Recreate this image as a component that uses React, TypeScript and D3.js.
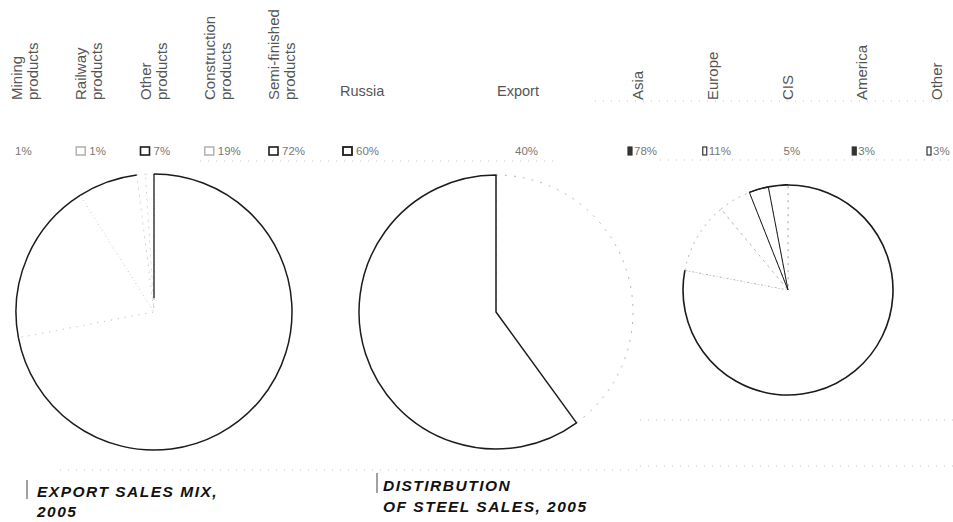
import React from "react";
import * as d3 from "d3";

// export sales mix, 2005 (%)
const mixLabels = [
  ["Mining", "products"],
  ["Railway", "products"],
  ["Other", "products"],
  ["Construction", "products"],
  ["Semi-finished", "products"],
];
const mixValues = [1, 1, 7, 19, 72];

// distribution of steel sales, 2005 (%)
const salesLabels = ["Russia", "Export"];
const salesValues = [60, 40];

// export by region (%)
const regionLabels = ["Asia", "Europe", "CIS", "America", "Other"];
const regionValues = [78, 11, 5, 3, 3];

const W = 953;
const H = 522;
const FONT = "'Liberation Sans', Arial, sans-serif";
const INK = "#1c1c1c";
const FAINT = "#b5b5b5";

type Slice = d3.PieArcDatum<number>;

function rimPath(d: Slice, r: number) {
  return d3.arc<Slice>().innerRadius(r).outerRadius(r)(d) || "";
}

function ray(angle: number, r: number): [number, number] {
  return [Math.sin(angle) * r, -Math.cos(angle) * r];
}

function Pie1() {
  const cx = 154, cy = 312, r = 138;
  // counter-clockwise from 12 o'clock
  const arcs = d3.pie<number>().sort(null).startAngle(0).endAngle(-2 * Math.PI)(mixValues);
  const arc = d3.arc<Slice>().innerRadius(0).outerRadius(r);
  const rim = [false, false, true, true, true];
  const [x0, y0] = ray(arcs[0].startAngle, r);
  return (
    <g transform={`translate(${cx},${cy})`}>
      {arcs.map((d, i) => (
        <path key={i} d={arc(d) || ""} fill="#fff" stroke={FAINT} strokeWidth={0.8} strokeDasharray="1 6" />
      ))}
      {arcs.map((d, i) =>
        rim[i] ? <path key={"r" + i} d={rimPath(d, r)} fill="none" stroke={INK} strokeWidth={1.5} /> : null
      )}
      <line x1={x0} y1={y0} x2={x0 * 0.1} y2={y0 * 0.1} stroke={INK} strokeWidth={1.3} />
    </g>
  );
}

function Pie2() {
  const cx = 496, cy = 312, r = 137;
  const arcs = d3.pie<number>().sort(null).startAngle(0).endAngle(-2 * Math.PI)(salesValues);
  const arc = d3.arc<Slice>().innerRadius(0).outerRadius(r);
  return (
    <g transform={`translate(${cx},${cy})`}>
      <path d={arc(arcs[1]) || ""} fill="#fff" stroke={FAINT} strokeWidth={1} strokeDasharray="2 7" />
      <path d={arc(arcs[0]) || ""} fill="#fff" stroke={INK} strokeWidth={1.5} strokeLinejoin="round" />
    </g>
  );
}

function Pie3() {
  const cx = 788, cy = 290, r = 105;
  const arcs = d3.pie<number>().sort(null).startAngle(0).endAngle(2 * Math.PI)(regionValues);
  const arc = d3.arc<Slice>().innerRadius(0).outerRadius(r);
  const rim = [true, false, false, true, true];
  return (
    <g transform={`translate(${cx},${cy})`}>
      {arcs.map((d, i) => (
        <path key={i} d={arc(d) || ""} fill="#fff" stroke={FAINT} strokeWidth={1} strokeDasharray="2 5" />
      ))}
      {arcs.map((d, i) =>
        rim[i] ? <path key={"r" + i} d={rimPath(d, r)} fill="none" stroke={INK} strokeWidth={1.6} /> : null
      )}
      <path d={arc(arcs[3]) || ""} fill="none" stroke={INK} strokeWidth={1} />
    </g>
  );
}

export default function App() {
  const col1 = d3.scaleLinear().domain([0, mixLabels.length - 1]).range([22, 279]);
  const col2 = d3.scaleLinear().domain([0, 1]).range([340, 497]);
  const col3 = d3.scaleLinear().domain([0, regionLabels.length - 1]).range([643, 942]);
  const mixMarker = [null, FAINT, INK, FAINT, INK];
  const regionMarker = ["fill", "open", null, "fill", "open"];
  const labelY = 100;
  const legY = 155;
  const title = { fontSize: 15.5, fontWeight: "bold", fontStyle: "italic", letterSpacing: 1.5, fill: "#111" } as const;

  const dots = (x1: number, x2: number, y: number, k: string) => (
    <line key={k} x1={x1} x2={x2} y1={y} y2={y} stroke="#c4c4c4" strokeWidth={1} strokeDasharray="1 7" />
  );

  return (
    <svg width={W} height={H} style={{ position: "absolute", left: 0, top: 0, background: "#fff" }} fontFamily={FONT}>
      <rect width={W} height={H} fill="#fff" />

      {/* faint rules of the scan */}
      {dots(595, 953, 101, "a")}
      {dots(660, 953, 160, "b")}
      {dots(200, 560, 161, "c")}
      {dots(60, 640, 470, "d")}
      {dots(640, 953, 420, "e")}
      {dots(640, 953, 466, "f")}

      {/* left: export sales mix */}
      {mixLabels.map((lines, i) => (
        <text
          key={"ml" + i}
          transform={`translate(${col1(i)},${labelY}) rotate(-90)`}
          fontSize={15}
          fill="#555"
        >
          <tspan x={0} y={0}>{lines[0]}</tspan>
          <tspan x={0} y={16}>{lines[1]}</tspan>
        </text>
      ))}
      {mixValues.map((v, i) => (
        <g key={"mv" + i}>
          {mixMarker[i] && (
            <rect x={col1(i) - 10} y={legY - 8} width={9} height={8} fill="#fff" stroke={mixMarker[i] as string} strokeWidth={1.6} />
          )}
          <text x={i === 0 ? col1(i) - 7 : col1(i) + 3} y={legY} fontSize={11.5} fill="#777">{v}%</text>
        </g>
      ))}
      <Pie1 />

      {/* middle: distribution of steel sales */}
      {salesLabels.map((s, i) => (
        <text key={"sl" + i} x={col2(i)} y={96} fontSize={14.5} fill="#555">{s}</text>
      ))}
      {salesValues.map((v, i) => (
        <g key={"sv" + i}>
          {i === 0 && <rect x={col2(i) + 3} y={legY - 8} width={9} height={8} fill="#fff" stroke={INK} strokeWidth={1.8} />}
          <text x={i === 0 ? col2(i) + 16 : col2(i) + 18} y={legY} fontSize={11.5} fill="#777">{v}%</text>
        </g>
      ))}
      <Pie2 />

      {/* right: export by region */}
      {regionLabels.map((s, i) => (
        <text key={"rl" + i} transform={`translate(${col3(i)},${labelY}) rotate(-90)`} fontSize={15} fill="#555">{s}</text>
      ))}
      {regionValues.map((v, i) => (
        <g key={"rv" + i}>
          {regionMarker[i] && (
            <rect
              x={col3(i) - 15}
              y={legY - 8}
              width={4}
              height={8}
              fill={regionMarker[i] === "fill" ? "#333" : "#fff"}
              stroke="#333"
              strokeWidth={1.2}
            />
          )}
          <text x={col3(i) - 9} y={legY} fontSize={11.5} fill="#777">{v}%</text>
        </g>
      ))}
      <Pie3 />

      {/* titles */}
      <line x1={27} x2={27} y1={480} y2={499} stroke="#444" strokeWidth={1} />
      <text x={37} y={497} {...title}>EXPORT SALES MIX,</text>
      <text x={37} y={517} {...title}>2005</text>
      <line x1={377} x2={377} y1={473} y2={493} stroke="#444" strokeWidth={1} />
      <text x={383} y={491} {...title}>DISTIRBUTION</text>
      <text x={383} y={512} {...title}>OF STEEL SALES, 2005</text>
    </svg>
  );
}
